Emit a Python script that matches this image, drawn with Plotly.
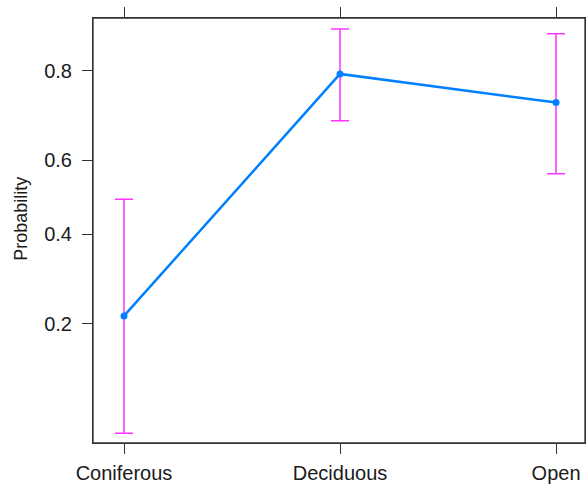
import numpy as np
import plotly.graph_objects as go

categories = ["Coniferous", "Deciduous", "Open"]
prob = [0.214, 0.794, 0.738]
upper = [0.494, 0.863, 0.857]
lower = [0.070, 0.698, 0.564]
tick_probs = [0.2, 0.4, 0.6, 0.8]
tick_labels = ["0.2", "0.4", "0.6", "0.8"]
y_title = "Probability"


def logit(p):
    p = np.asarray(p, dtype=float)
    return np.log(p / (1 - p))


y = logit(prob)
yu = logit(upper)
yl = logit(lower)
xs = list(range(len(categories)))

fig = go.Figure()
fig.add_trace(go.Scatter(
    x=xs, y=y, mode="lines+markers",
    line=dict(color="#0080FF", width=2.5),
    marker=dict(color="#0080FF", size=7, symbol="circle"),
    error_y=dict(type="data", symmetric=False, array=yu - y, arrayminus=y - yl,
                 color="#FF33FF", thickness=1.5, width=9),
    showlegend=False,
))

axis_common = dict(
    showgrid=False, zeroline=False, showline=True, linecolor="#333333", linewidth=1,
    mirror="ticks", ticks="outside", ticklen=10, tickcolor="#333333", tickwidth=1.3,
    automargin=False, tickfont=dict(size=20),
)

fig.update_layout(
    width=586, height=487,
    margin=dict(l=93, r=1, t=18, b=44),
    paper_bgcolor="white", plot_bgcolor="white",
    font=dict(family="Liberation Sans, Arial", size=20, color="#1a1a1a"),
    xaxis=dict(
        range=[-0.1435, 2.134], tickmode="array", tickvals=xs, ticktext=categories,
        ticklabelstandoff=2, **axis_common,
    ),
    yaxis=dict(
        range=[-2.693, 1.962], tickmode="array", tickvals=logit(tick_probs), ticktext=tick_labels,
        ticklabelstandoff=6, **axis_common,
    ),
    shapes=[dict(type="rect", xref="paper", yref="paper", x0=0, y0=0, x1=1, y1=1,
                 line=dict(color="#333333", width=1.3), layer="above")],
    annotations=[dict(text=y_title, xref="paper", yref="paper", x=-0.148, y=0.528,
                      textangle=-90, showarrow=False, xanchor="center", yanchor="middle",
                      font=dict(size=18))],
)

fig.write_html("out.html", config={"displayModeBar": False},
               post_script="document.body.style.margin='0';document.body.style.padding='0';")
